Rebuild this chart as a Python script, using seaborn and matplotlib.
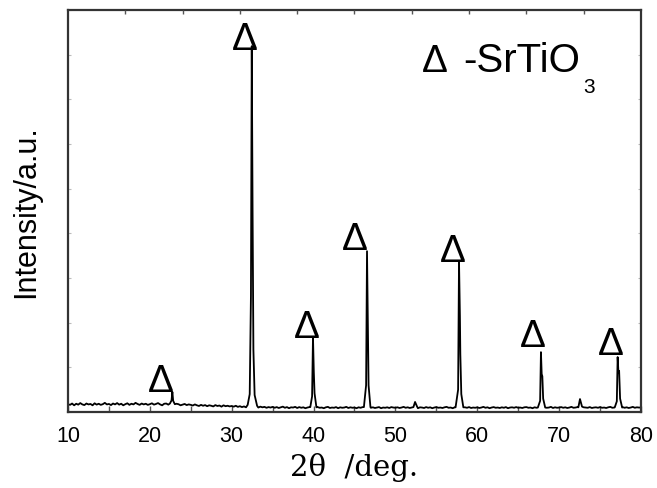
import numpy as np
import pandas as pd
import seaborn as sns
from matplotlib import pyplot as plt

# baseline counts, one value every 0.25 deg from 10 to 80
base_start, base_step = 10.0, 0.25
base_counts = [
    175, 160, 190, 150, 185, 165, 200, 170, 155, 190, 170, 180, 150, 195, 165, 185, 160, 175, 205, 170,
    180, 155, 190, 170, 200, 165, 185, 150, 175, 195, 160, 185, 170, 205, 180, 160, 190, 170, 185, 160,
    175, 195, 165, 180, 200, 170, 150, 185, 190, 165, 200, 170, 160, 185, 175, 150, 165, 180, 155, 170,
    160, 145, 170, 150, 135, 160, 140, 155, 130, 150, 140, 125, 155, 135, 145, 120, 150, 130, 140, 125,
    135, 120, 140, 115, 130, 110, 125, 105, 120, 110, 130, 115, 125, 100, 120, 105, 115, 95, 110, 100,
    115, 95, 110, 90, 105, 120, 95, 110, 85, 105, 100, 115, 90, 110, 95, 105, 85, 100, 110, 95,
    105, 90, 110, 95, 100, 85, 105, 115, 90, 100, 95, 110, 85, 105, 95, 100, 115, 90, 105, 95,
    100, 85, 105, 95, 110, 90, 100, 120, 95, 105, 90, 100, 110, 85, 100, 95, 105, 90, 110, 100,
    95, 105, 90, 100, 115, 95, 105, 90, 100, 110, 95, 85, 105, 100, 90, 110, 95, 105, 85, 100,
    110, 95, 100, 90, 105, 115, 95, 100, 85, 105, 95, 110, 90, 100, 105, 95, 110, 90, 100, 95,
    105, 90, 100, 115, 95, 105, 85, 100, 110, 95, 100, 90, 105, 95, 110, 85, 100, 105, 95, 110,
    95, 100, 90, 105, 110, 95, 100, 85, 105, 95, 110, 100, 90, 105, 95, 100, 115, 90, 105, 95,
    100, 110, 95, 105, 90, 100, 115, 95, 100, 110, 95, 85, 105, 100, 95, 110, 90, 100, 105, 95,
    110, 95, 100, 90, 105, 115, 95, 100, 105, 90, 100, 110, 95, 105, 90, 100, 115, 95, 105, 100,
    100,
]

# peak profiles (2theta, counts)
peak_x = [
    [22.45, 22.65, 22.75, 22.85, 23.05],
    [31.95, 32.2, 32.35, 32.45, 32.55, 32.65, 32.8, 33.1],
    [39.6, 39.82, 39.93, 40.03, 40.12, 40.35],
    [46.15, 46.42, 46.53, 46.63, 46.72, 46.95],
    [52.2, 52.4, 52.65],
    [57.35, 57.66, 57.77, 57.88, 57.93, 58.05, 58.3],
    [67.4, 67.68, 67.78, 67.87, 67.95, 68.05, 68.3],
    [72.35, 72.55, 72.8],
    [76.8, 77.05, 77.15, 77.25, 77.33, 77.45, 77.7],
]
peak_y = [
    [190, 260, 450, 250, 175],
    [160, 400, 2600, 8190, 4500, 1400, 380, 140],
    [110, 350, 1680, 900, 420, 105],
    [110, 600, 3600, 1900, 600, 110],
    [110, 225, 120],
    [105, 500, 3380, 2150, 1300, 400, 105],
    [100, 250, 1340, 850, 800, 300, 100],
    [105, 290, 120],
    [105, 240, 1230, 880, 920, 300, 100],
]

# triangle markers (2theta, counts at bottom of the symbol)
mark_x = [21.36, 31.59, 39.2, 45.06, 57.03, 66.8, 76.27]
mark_y = [470, 8126, 1679, 3649, 3380, 1478, 1298]

base_x = base_start + base_step * np.arange(len(base_counts))
keep = np.ones(len(base_x), dtype=bool)
for px in peak_x:
    keep &= ~((base_x >= px[0]) & (base_x <= px[-1]))

xs = list(base_x[keep]) + [v for px in peak_x for v in px]
ys = list(np.array(base_counts)[keep]) + [v for py in peak_y for v in py]
df = pd.DataFrame({'two_theta': xs, 'intensity': ys}).sort_values('two_theta')

sns.set_theme(style='white')
plt.rcParams['font.family'] = ['Liberation Sans', 'DejaVu Sans']
plt.rcParams['text.color'] = 'black'
plt.rcParams['axes.labelcolor'] = 'black'
plt.rcParams['xtick.labelcolor'] = 'black'

fig = plt.figure(figsize=(6.57, 4.89), dpi=100)
ax = fig.add_axes([0.1035, 0.1554, 0.8721, 0.8221])
sns.lineplot(data=df, x='two_theta', y='intensity', color='black', lw=1.3,
             estimator=None, sort=True, ax=ax)

ax.set_xlim(10, 80)
ax.set_ylim(0, 9000)
ax.set_xticks(range(10, 81, 10))
ax.set_xticks(range(15, 80, 10), minor=True)
ax.set_yticks(range(0, 9001, 1000))
ax.set_yticklabels([])
ax.tick_params(axis='x', which='both', direction='in', length=4, width=1,
               color='#555555', labelsize=15.5, labelcolor='black', pad=9, top=False)
ax.tick_params(axis='y', direction='in', length=2.5, width=0.8, color='#bbbbbb',
               left=True, right=True)
for s in ax.spines.values():
    s.set_color('#333333')
    s.set_linewidth(1.6)

ax2 = ax.twiny()
ax2.set_xlim(0, 10)
ax2.set_xticks(range(1, 10))
ax2.set_xticklabels([])
ax2.tick_params(axis='x', direction='in', length=3, width=1, color='#555555')
for s in ax2.spines.values():
    s.set_visible(False)

ax.set_ylabel('Intensity/a.u.', fontsize=22, labelpad=16)
ax.set_xlabel('2θ  /deg.', fontsize=21, family=['DejaVu Serif'], labelpad=5)

for x, y in zip(mark_x, mark_y):
    ax.text(x, y, 'Δ', fontsize=28, ha='center', va='baseline', color='black')

ax.text(0.618, 0.848, 'Δ', transform=ax.transAxes, fontsize=28,
        ha='left', va='baseline')
legend_txt = ax.text(0.690, 0.848, '-SrTiO', transform=ax.transAxes,
                     fontsize=29, ha='left', va='baseline')
ax.annotate('3', xy=(1, 0), xycoords=legend_txt, xytext=(2, -9),
            textcoords='offset points', fontsize=15, ha='left', va='baseline')

plt.savefig('out.png')
